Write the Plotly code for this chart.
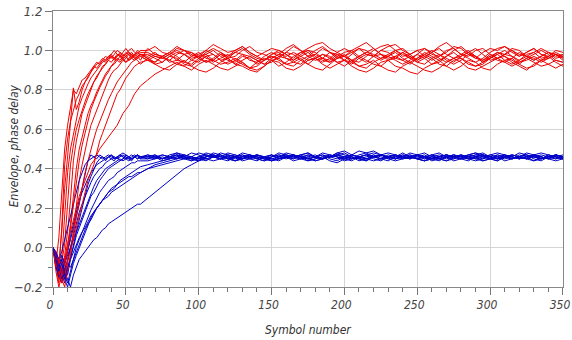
import plotly.graph_objects as go

# Symbol positions at which the traces are sampled
SYMBOLS = list(range(0, 61, 2)) + list(range(65, 351, 5))

# Envelope traces (values in hundredths)
RED_1 = [0,-8,5,30,50,62,72,80,78,82,85,86,88,90,92,91,93,95,94,96,97,95,97,98,96,97,99,98,96,97,98,
         97,99,96,95,98,100,99,96,94,95,98,97,99,101,98,96,95,97,96,99,102,100,97,95,96,99,98,95,93,96,
         98,97,100,99,96,95,97,94,96,99,101,98,96,97,99,97,94,96,98,100,97,95,98,99,96,97,99,97]
RED_2 = [0,-5,-12,10,42,55,64,70,75,78,82,84,87,89,91,93,94,96,95,97,98,96,97,99,98,97,95,96,98,99,97,
         95,93,94,97,96,93,92,95,97,94,96,98,95,93,91,94,96,95,92,94,97,99,100,97,95,94,96,98,95,92,
         91,94,96,97,95,93,95,98,96,93,94,97,99,96,94,92,93,96,98,95,93,95,97,96,94,96,98,95]
RED_3 = [0,-10,-18,-6,15,38,50,58,66,72,76,80,83,86,88,90,92,94,95,97,96,98,100,99,97,98,100,101,99,98,100,
         100,102,99,98,101,100,97,98,100,103,101,99,100,102,99,97,99,101,100,98,96,99,101,103,104,101,99,97,99,101,
         98,97,100,102,103,100,98,100,101,98,97,99,102,101,98,96,99,101,100,102,100,97,99,101,98,97,100,99]
RED_4 = [0,-4,-15,-8,2,20,42,52,60,65,70,74,78,81,84,87,89,92,93,95,94,96,95,97,96,94,95,97,96,95,93,
         96,93,91,90,93,95,92,90,89,91,94,96,93,92,90,89,92,95,94,91,90,92,95,96,93,91,93,95,92,90,
         89,91,94,95,92,91,89,88,91,93,95,92,90,92,95,94,91,90,93,95,96,93,91,92,95,93,91,93]
RED_5 = [0,-12,-20,-14,-4,8,24,44,54,62,68,72,76,80,84,86,89,91,93,95,97,96,98,97,95,96,98,99,97,96,98,
         98,96,94,97,99,98,95,94,97,98,95,93,95,98,97,95,93,96,98,97,99,97,95,96,98,96,94,92,95,97,
         99,101,98,96,97,99,96,94,93,96,98,96,94,97,99,101,98,95,96,98,97,94,95,97,95,96,98,96]
RED_6 = [0,-6,-14,-18,-10,0,12,26,40,50,56,62,68,72,75,79,82,85,88,90,92,93,95,94,96,97,95,96,98,97,95,
         101,98,97,99,102,100,98,96,99,101,99,96,97,100,102,99,98,96,98,101,103,100,97,98,101,99,96,97,100,102,
         104,101,98,97,100,98,96,98,101,99,102,104,101,98,97,100,101,98,96,98,100,98,97,99,101,99,97,98]
RED_7 = [0,-9,-16,-12,-6,2,8,14,20,26,30,34,38,42,44,47,50,52,54,56,58,60,62,65,68,70,72,75,78,80,82,
         85,88,90,92,94,92,90,93,95,93,91,90,92,94,91,90,92,95,96,93,94,96,93,91,90,93,96,97,94,92,
         93,95,92,90,89,92,94,92,90,89,91,94,96,94,91,90,92,94,96,97,94,92,90,93,95,97,94,92]
RED_8 = [0,-3,-10,-16,-20,-12,-4,8,20,34,42,50,56,62,66,70,74,78,82,85,88,90,91,93,95,94,96,98,97,99,98,
         96,98,97,94,95,98,99,97,100,98,95,96,99,98,95,94,97,99,97,96,94,93,96,98,96,94,97,99,100,97,
         99,98,96,98,100,101,98,95,97,99,96,94,96,98,100,97,95,97,99,98,101,100,97,95,97,99,96,97]
RED_9 = [0,-7,-14,-10,-16,-8,0,6,14,24,32,38,44,50,55,60,64,68,72,75,78,81,84,86,88,90,92,94,95,96,97,
         95,94,97,95,93,92,95,97,98,95,93,94,96,94,91,92,95,97,95,93,92,95,97,100,102,99,97,95,94,97,
         95,93,92,95,97,95,93,96,98,96,93,92,95,96,93,92,94,97,95,94,92,94,96,94,92,93,95,94]
RED_10 = [0,-4,-8,8,30,46,62,81,70,74,80,84,86,89,92,94,93,95,97,96,98,100,98,97,99,101,99,97,98,100,99,
          99,97,96,98,100,98,96,97,94,96,99,97,100,102,99,97,95,98,99,96,95,98,100,99,96,95,98,97,95,94,
          97,100,102,103,100,97,98,100,97,95,97,100,101,98,96,94,96,99,101,102,99,97,99,101,98,96,98,97]
RED_11 = [0,-10,-6,-14,-8,-2,10,22,34,44,52,58,64,70,74,78,81,84,87,89,92,94,96,95,97,99,98,96,95,97,98,
          96,94,97,99,97,94,93,96,98,100,97,95,94,97,96,93,95,98,100,98,95,97,99,96,94,96,99,101,99,96,
          94,97,98,95,96,99,97,95,98,100,98,95,93,95,98,97,94,96,99,97,95,93,96,98,100,98,95,94]
RED_12 = [0,-5,-12,-18,-14,-6,-2,4,10,16,22,28,34,38,42,48,54,58,62,66,70,74,78,80,83,86,88,90,92,93,94,
          95,97,96,98,95,94,97,99,96,95,98,96,93,95,97,95,93,94,97,99,98,95,93,96,98,97,94,95,98,101,
          100,97,95,97,99,96,94,96,99,97,95,97,100,102,99,96,95,98,96,94,96,99,97,95,97,99,98,96]

# Phase-delay traces (values in hundredths)
BLUE_1 = [0,-4,-8,-12,-6,-2,4,10,16,22,30,38,44,47,46,45,47,46,45,46,47,46,45,47,46,45,46,47,46,45,46,
          46,47,45,46,48,47,45,44,46,47,46,48,47,45,46,45,44,46,47,46,45,47,48,46,45,46,47,45,44,46,
          47,48,47,46,45,46,48,47,45,46,47,46,44,45,47,48,46,45,46,47,45,46,48,47,46,45,47,46]
BLUE_2 = [0,-6,-10,-4,-8,-14,-6,2,8,14,20,26,32,36,40,43,45,46,44,46,47,45,46,44,45,47,46,45,46,47,45,
          45,46,44,45,47,46,44,45,46,48,47,45,46,47,45,44,46,47,45,46,44,45,47,46,45,47,46,44,45,46,
          47,45,44,46,47,46,45,47,48,46,45,44,46,47,45,46,47,45,44,46,45,47,46,44,45,47,46,45]
BLUE_3 = [0,-3,-9,-14,-18,-12,-4,0,6,10,14,18,22,26,28,31,34,36,38,40,41,42,43,44,45,46,45,44,46,47,46,
          47,46,45,47,48,46,45,46,47,46,48,47,46,45,47,46,45,46,48,47,46,47,48,46,45,46,47,46,45,47,
          48,49,47,46,45,47,46,45,46,47,48,46,45,46,47,46,45,47,46,45,46,48,47,46,45,46,47,46]
BLUE_4 = [0,-8,-14,-10,-16,-20,-14,-8,-4,0,4,8,12,15,18,20,22,24,26,28,30,31,32,34,35,36,37,38,39,40,41,
          42,43,44,45,46,45,44,46,45,44,45,47,46,44,45,46,45,44,45,46,47,45,44,45,46,44,43,45,46,45,
          44,46,47,45,44,45,46,45,44,46,45,44,45,47,46,45,44,45,46,44,45,46,45,44,46,45,44,45]
BLUE_5 = [0,-2,-6,-4,-8,-2,6,12,18,24,28,32,35,38,40,42,43,44,45,46,45,44,46,47,46,45,44,45,46,45,46,
          46,45,47,46,45,46,48,47,45,46,47,45,44,46,47,46,45,47,46,45,46,47,45,46,48,47,46,45,46,44,
          45,47,46,45,46,48,46,45,44,45,46,47,46,45,47,48,47,46,45,46,47,46,45,46,45,47,46,45]
BLUE_6 = [0,-10,-14,-18,-12,-16,-20,-14,-10,-6,-4,-2,0,2,4,5,7,9,10,12,13,14,15,16,17,18,19,20,21,22,22,
          25,28,31,34,37,40,42,44,45,46,45,47,46,45,46,47,46,44,45,46,47,46,45,44,45,46,48,47,46,45,
          46,47,45,46,47,46,45,46,47,45,46,47,46,45,44,46,47,46,45,47,46,45,46,47,45,46,47,46]
BLUE_7 = [0,-5,-9,-12,-8,-4,0,6,12,18,22,26,30,33,36,38,40,41,43,44,45,46,45,46,47,46,45,46,47,46,45,
          47,46,45,46,47,45,46,48,47,46,45,46,47,46,45,47,46,45,46,48,47,46,45,46,47,46,45,46,47,49,
          48,46,45,46,47,46,45,47,46,45,46,47,46,45,46,47,48,46,45,46,47,46,45,47,48,47,46,45]
BLUE_8 = [0,-7,-12,-16,-12,-8,-10,-6,-2,2,6,9,12,14,17,20,22,24,26,28,29,30,32,33,34,35,36,36,37,38,38,
          40,41,42,43,44,45,46,45,47,46,45,46,44,45,46,47,46,45,44,46,47,46,45,46,47,45,44,46,47,46,
          45,44,45,47,46,45,46,47,46,44,45,46,47,46,45,46,44,45,47,46,45,46,47,45,44,46,47,46]
BLUE_9 = [0,-3,-6,-2,4,10,16,22,28,34,38,42,44,45,46,47,46,45,46,47,46,45,46,47,48,47,46,45,46,47,46,
          45,46,47,46,45,47,46,45,46,47,46,45,46,48,47,46,45,46,47,46,45,46,47,46,45,46,48,49,47,46,
          45,46,47,46,45,46,47,46,45,47,46,45,46,47,46,45,46,47,48,47,46,45,46,47,46,45,46,47]
BLUE_10 = [0,-9,-15,-12,-16,-10,-6,-2,2,5,8,10,13,16,18,20,22,24,25,26,28,29,30,31,32,33,34,35,36,37,38,
           40,42,43,44,45,46,45,44,46,47,46,45,44,45,46,47,45,44,46,47,46,45,46,47,45,46,47,48,46,45,
           44,46,47,46,45,46,47,45,44,45,46,47,46,45,46,47,46,45,44,46,47,46,45,46,47,46,45,46]
BLUE_11 = [0,-4,-10,-6,-12,-6,0,4,8,12,16,20,24,28,31,34,36,38,40,41,42,43,44,45,44,45,46,45,46,47,46,
           46,47,45,46,47,46,45,46,48,47,45,44,46,47,46,45,46,47,45,46,47,46,44,45,46,47,46,45,47,46,
           45,46,47,48,47,45,46,47,46,45,44,46,47,46,45,46,47,46,45,47,46,45,46,47,46,45,47,46]
BLUE_12 = [0,-6,-12,-8,-14,-18,-12,-6,0,4,8,12,16,19,22,25,28,30,32,34,35,36,38,39,40,41,42,43,43,44,44,
           44,45,46,45,46,47,46,45,44,46,47,46,45,46,47,45,44,45,46,47,46,45,46,44,45,46,47,46,45,46,
           47,46,45,44,46,47,46,45,46,47,45,46,47,46,45,44,45,46,47,46,45,46,47,46,45,46,45,46]

RED_SERIES = [RED_1, RED_2, RED_3, RED_4, RED_5, RED_6, RED_7, RED_8, RED_9, RED_10, RED_11, RED_12]
BLUE_SERIES = [BLUE_1, BLUE_2, BLUE_3, BLUE_4, BLUE_5, BLUE_6, BLUE_7, BLUE_8, BLUE_9, BLUE_10, BLUE_11, BLUE_12]

X_TICKS = [0, 50, 100, 150, 200, 250, 300, 350]
X_LABELS = ["0", "50", "100", "150", "200", "250", "300", "350"]
X_TITLE = "Symbol number"
Y_TITLE = "Envelope, phase delay"

for s in RED_SERIES + BLUE_SERIES:
    assert len(s) == len(SYMBOLS), len(s)

RED = "rgb(240,0,0)"
BLUE = "rgb(0,0,200)"
FONT = "Liberation Sans Narrow, DejaVu Sans Condensed, Roboto, sans-serif"

fig = go.Figure()
for r, b in zip(RED_SERIES, BLUE_SERIES):
    fig.add_trace(go.Scatter(x=SYMBOLS, y=[v / 100 for v in r], mode="lines",
                             line=dict(color=RED, width=1), showlegend=False, hoverinfo="skip"))
    fig.add_trace(go.Scatter(x=SYMBOLS, y=[v / 100 for v in b], mode="lines",
                             line=dict(color=BLUE, width=1), showlegend=False, hoverinfo="skip"))

xtickfont = dict(family=FONT, size=12, color="#444444", style="italic")
ytickfont = dict(family=FONT, size=13, color="#444444", style="italic")
titlefont = dict(family=FONT, size=12, color="#333333", style="italic")

fig.update_layout(
    width=572, height=340,
    margin=dict(l=53, r=9, t=11, b=53),
    paper_bgcolor="white", plot_bgcolor="white",
    xaxis=dict(range=[0, 350.01], tickvals=X_TICKS, ticktext=X_LABELS, automargin=False,
               showgrid=True, gridcolor="#d4d4d4", gridwidth=1,
               showline=True, linecolor="#888888", linewidth=1, mirror=True,
               ticks="outside", ticklen=7, tickcolor="#777777",
               minor=dict(dtick=10, tick0=0, ticks="outside", ticklen=4, tickcolor="#777777", showgrid=False),
               tickfont=xtickfont, zeroline=False, ticklabeloverflow="allow", ticklabelshift=-3),
    yaxis=dict(range=[-0.2, 1.2], dtick=0.2, tick0=0, tickformat=".1f", automargin=False,
               showgrid=True, gridcolor="#d4d4d4", gridwidth=1,
               showline=True, linecolor="#888888", linewidth=1, mirror=True,
               ticks="outside", ticklen=7, tickcolor="#777777",
               minor=dict(dtick=0.1, ticks="outside", ticklen=4, tickcolor="#777777", showgrid=False),
               tickfont=ytickfont, zeroline=False),
    annotations=[
        dict(text=X_TITLE, xref="paper", yref="paper", x=0.5, y=-0.156,
             xanchor="center", yanchor="middle", showarrow=False, font=titlefont),
        dict(text=Y_TITLE, xref="paper", yref="paper", x=-0.076, y=0.511, textangle=-90,
             xanchor="center", yanchor="middle", showarrow=False, font=titlefont),
    ],
)

fig.write_html("out.html", config={"displayModeBar": False},
               post_script="document.body.style.margin='0';document.body.style.overflow='hidden';")
